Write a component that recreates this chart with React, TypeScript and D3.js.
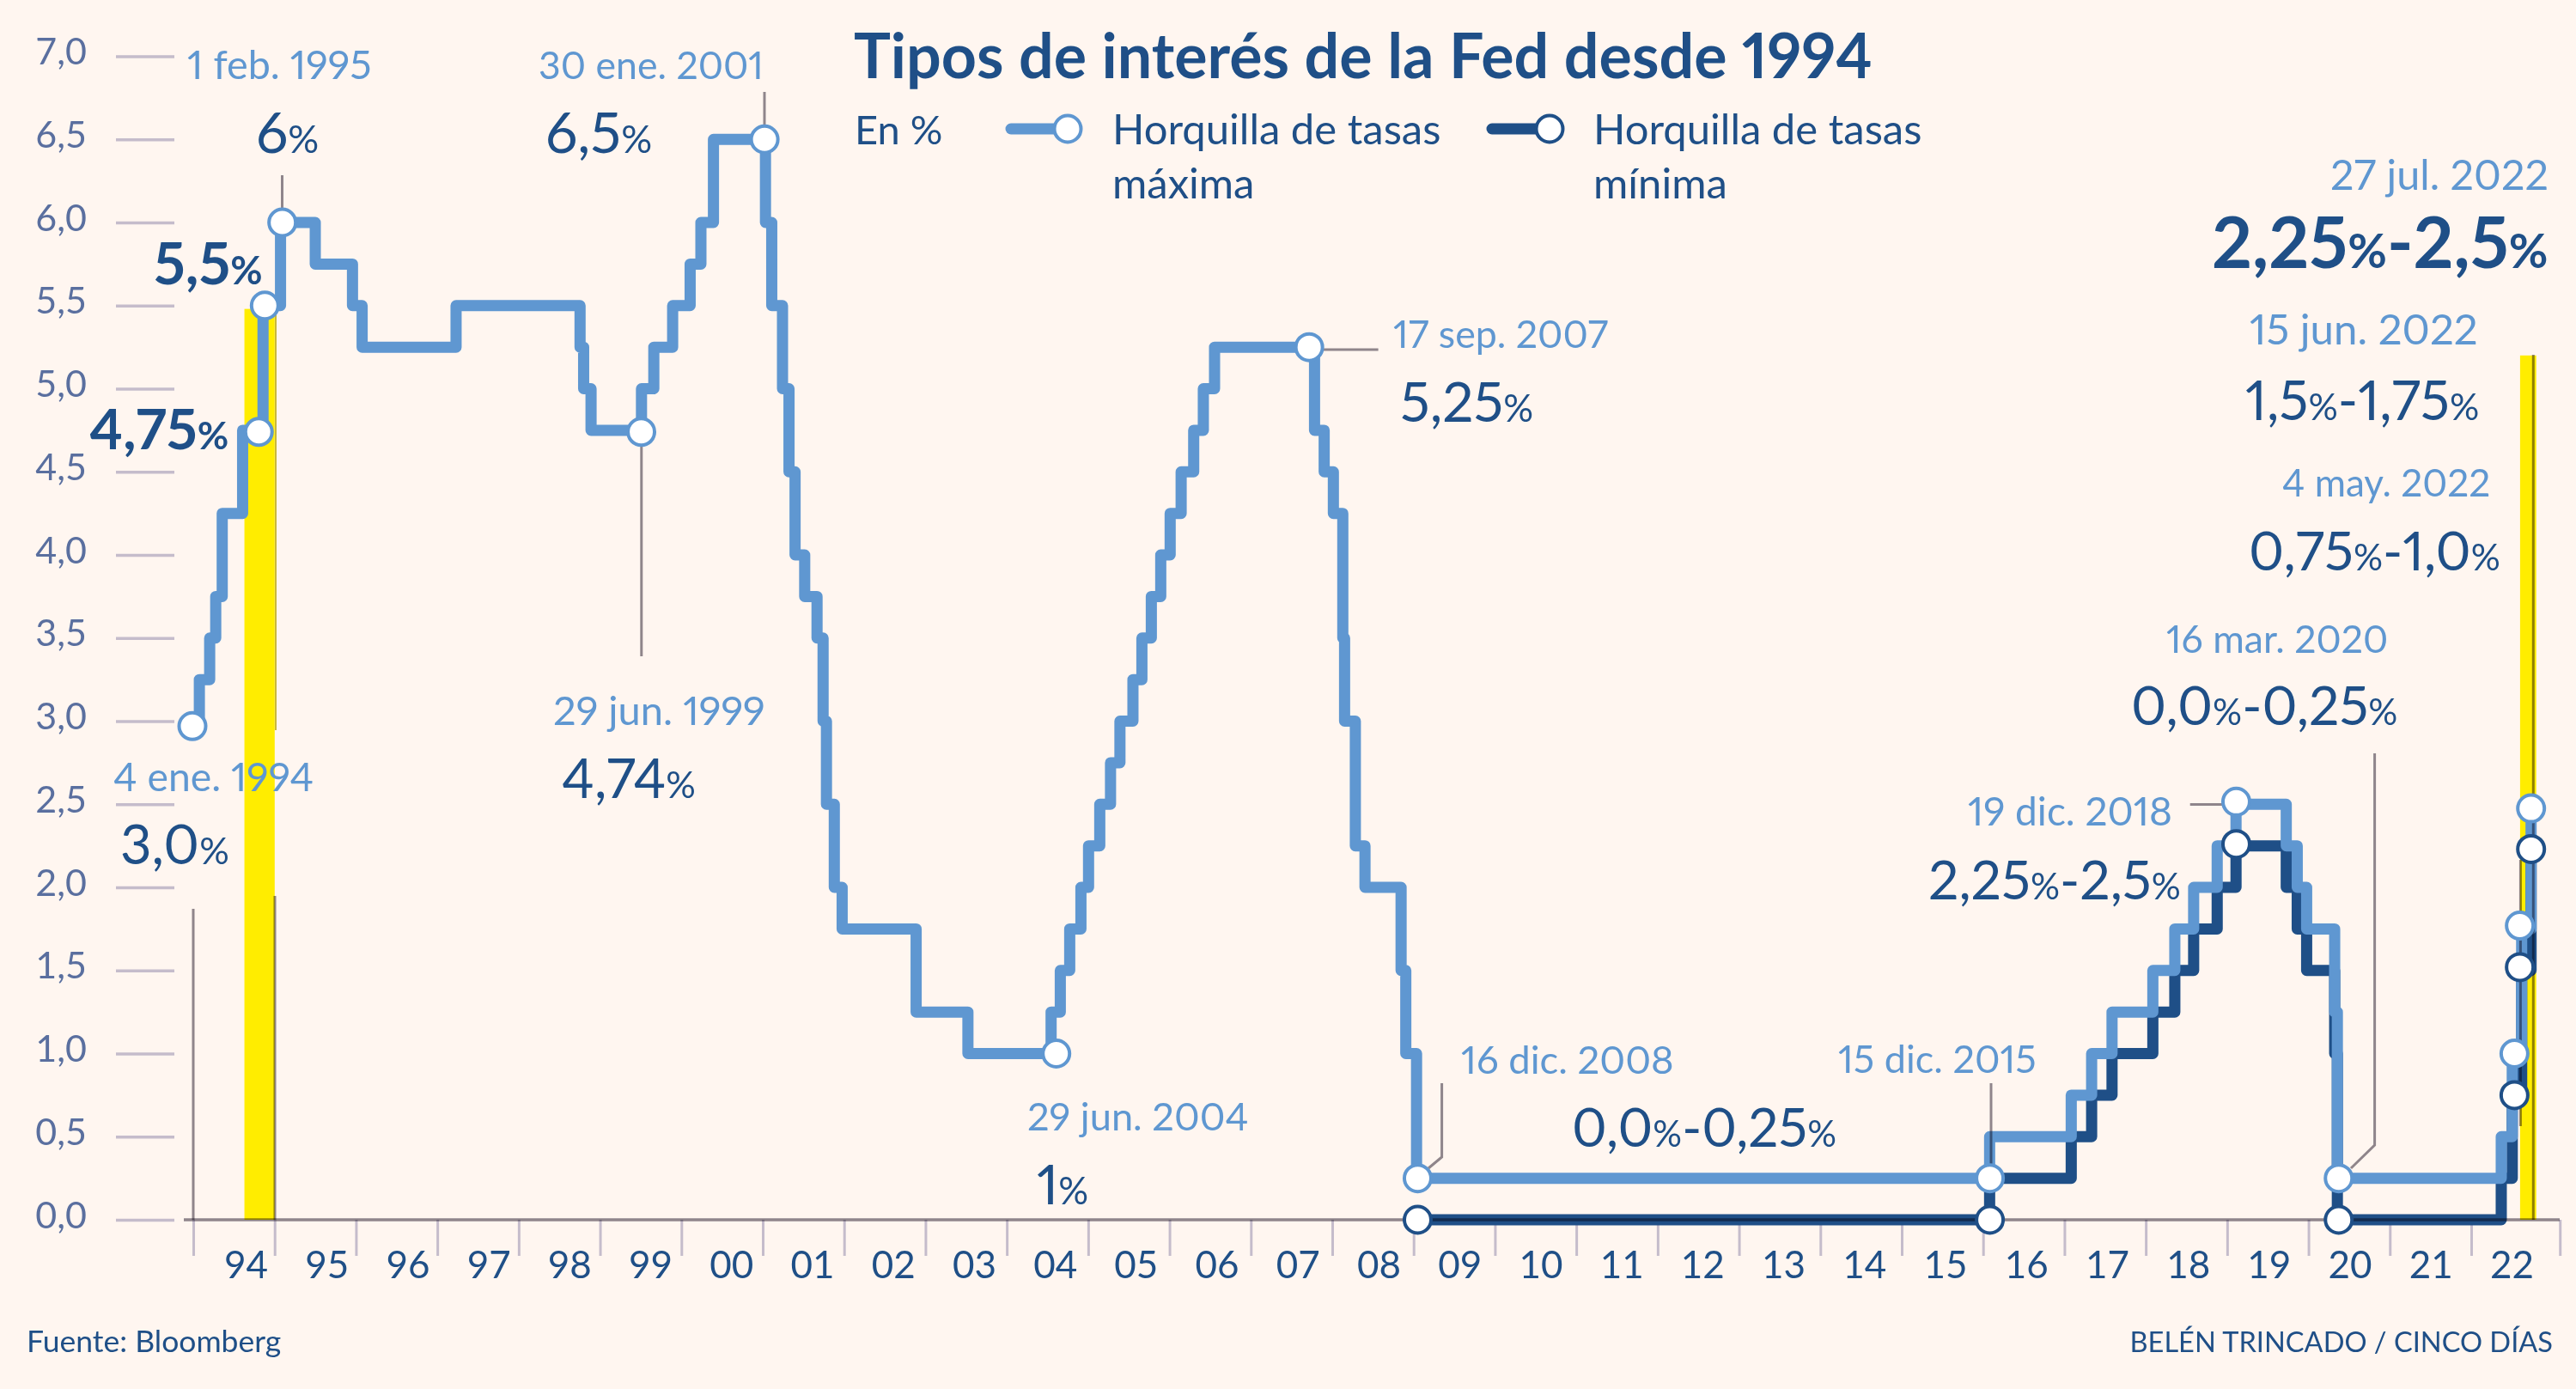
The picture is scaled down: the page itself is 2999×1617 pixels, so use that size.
import { useEffect, useRef } from "react";
import * as d3 from "d3";

const WIDTH = 2999;
const HEIGHT = 1617;

const BG = "#fff6f0";
const LIGHT = "#5f97d1";
const DARK = "#1f4f87";
const GREY = "#8f8a94";
const TICK = "#c5bccb";
const YELLOW = "#ffed00";
const AXIS_TEXT = "#5a6f9f";

// fed funds upper bound, single target until the end of 2008
const maxDates = [
  "1994-01-04", "1994-02-04", "1994-03-22", "1994-04-18", "1994-05-17", "1994-08-16", "1994-11-15",
  "1995-02-01", "1995-07-06", "1995-12-19", "1996-01-31", "1997-03-25", "1998-09-29", "1998-10-15",
  "1998-11-17", "1999-06-30", "1999-08-24", "1999-11-16", "2000-02-02", "2000-03-21", "2000-05-16",
  "2001-01-03", "2001-01-31", "2001-03-20", "2001-04-18", "2001-05-15", "2001-06-27", "2001-08-21",
  "2001-09-17", "2001-10-02", "2001-11-06", "2001-12-11", "2002-11-06", "2003-06-25", "2004-06-30",
  "2004-08-10", "2004-09-21", "2004-11-10", "2004-12-14", "2005-02-02", "2005-03-22", "2005-05-03",
  "2005-06-30", "2005-08-09", "2005-09-20", "2005-11-01", "2005-12-13", "2006-01-31", "2006-03-28",
  "2006-05-10", "2006-06-29", "2007-09-18", "2007-10-31", "2007-12-11", "2008-01-22", "2008-01-30",
  "2008-03-18", "2008-04-30", "2008-10-08", "2008-10-29", "2008-12-16", "2015-12-16", "2016-12-14",
  "2017-03-15", "2017-06-14", "2017-12-13", "2018-03-21", "2018-06-13", "2018-09-26", "2018-12-19",
  "2019-07-31", "2019-09-18", "2019-10-30", "2020-03-03", "2020-03-15", "2022-03-16", "2022-05-04",
  "2022-06-15", "2022-07-27",
];
const maxValues = [
  3, 3.25, 3.5, 3.75, 4.25, 4.75, 5.5,
  6, 5.75, 5.5, 5.25, 5.5, 5.25, 5,
  4.75, 5, 5.25, 5.5, 5.75, 6, 6.5,
  6, 5.5, 5, 4.5, 4, 3.75, 3.5,
  3, 2.5, 2, 1.75, 1.25, 1, 1.25,
  1.5, 1.75, 2, 2.25, 2.5, 2.75, 3,
  3.25, 3.5, 3.75, 4, 4.25, 4.5, 4.75,
  5, 5.25, 4.75, 4.5, 4.25, 3.5, 3,
  2.25, 2, 1.5, 1, 0.25, 0.5, 0.75,
  1, 1.25, 1.5, 1.75, 2, 2.25, 2.5,
  2.25, 2, 1.75, 1.25, 0.25, 0.5, 1,
  1.75, 2.5,
];

// lower bound of the range, it only exists from dec 2008
const minDates = [
  "2008-12-16", "2015-12-16", "2016-12-14", "2017-03-15", "2017-06-14", "2017-12-13", "2018-03-21",
  "2018-06-13", "2018-09-26", "2018-12-19", "2019-07-31", "2019-09-18", "2019-10-30", "2020-03-03",
  "2020-03-15", "2022-03-16", "2022-05-04", "2022-06-15", "2022-07-27",
];
const minValues = [0, 0.25, 0.5, 0.75, 1, 1.25, 1.5, 1.75, 2, 2.25, 2, 1.75, 1.5, 1, 0, 0.25, 0.75, 1.5, 2.25];

// markers sit a little off the line in the original
const maxMarkerDates = [
  "1994-01-04", "1994-10-27", "1994-11-23", "1995-02-09", "1999-06-29", "2000-12-30", "2004-07-23",
  "2007-08-25", "2008-12-21", "2015-12-17", "2018-12-20", "2020-03-21", "2022-05-14", "2022-06-07", "2022-07-27",
];
const maxMarkerValues = [2.97, 4.74, 5.5, 6, 4.74, 6.5, 1, 5.25, 0.25, 0.25, 2.515, 0.25, 1, 1.77, 2.475];
const minMarkerDates = ["2008-12-21", "2015-12-17", "2018-12-20", "2020-03-21", "2022-05-14", "2022-06-07", "2022-07-27"];
const minMarkerValues = [0, 0, 2.26, 0, 0.75, 1.52, 2.23];

// yellow periods
const bandStarts = ["1994-08-24", "2022-06-08"];
const bandEnds = ["1995-01-06", "2022-08-19"];
const bandTops = [5.48, 5.2];

const yTicks = [0, 0.5, 1, 1.5, 2, 2.5, 3, 3.5, 4, 4.5, 5, 5.5, 6, 6.5, 7];
const yearTicks = [...d3.range(1994, 2023), 2023.09];
const yearLabels = [
  "94", "95", "96", "97", "98", "99", "00", "01", "02", "03", "04", "05", "06", "07", "08",
  "09", "10", "11", "12", "13", "14", "15", "16", "17", "18", "19", "20", "21", "22",
];

const dateLabels = [
  "1 feb. 1995", "30 ene. 2001", "29 jun. 1999", "4 ene. 1994", "17 sep. 2007", "29 jun. 2004", "16 dic. 2008",
  "15 dic. 2015", "19 dic. 2018", "16 mar. 2020", "4 may. 2022", "15 jun. 2022", "27 jul. 2022",
];
const dateLabelPos = [
  [218, 92], [627, 92], [644, 844], [132, 921], [1622, 405], [1196, 1316], [1701, 1250],
  [2140, 1249], [2291, 961], [2522, 760], [2657, 578], [2619, 401], [2713, 221],
];
const dateLabelSizes = [46.7, 44.6, 47, 46.3, 44.7, 45.2, 45.4, 45, 46, 44.5, 44.1, 49.2, 48.5];

const valueLabels = [
  "6%", "6,5%", "5,5%", "4,75%", "4,74%", "3,0%", "5,25%", "1%", "0,0%-0,25%",
  "2,25%-2,5%", "0,0%-0,25%", "0,75%-1,0%", "1,5%-1,75%", "2,25%-2,5%",
];
const valueLabelPos = [
  [298, 178], [635, 178], [179, 331], [104, 523], [654, 929], [140, 1006], [1630, 491], [1207, 1402], [1830, 1335],
  [2245, 1047], [2481, 844], [2618, 664], [2614, 489], [2575, 312],
];
// size and weight per value label, the highlighted ones are bold
const valueLabelSizes = [66, 66, 67, 65.5, 63.5, 63.5, 64, 64, 62, 62.5, 62.5, 62.6, 63, 82];
const valueLabelBold = [false, false, true, true, false, false, false, false, false, false, false, false, false, true];

// annotation leaders
const leaders: [number, number][][] = [
  [[328.5, 204], [328.5, 245]],
  [[890, 107], [890, 150]],
  [[746.8, 515], [746.8, 764]],
  [[1540, 407], [1604.6, 407]],
  [[1678.6, 1261], [1678.6, 1347], [1663, 1360]],
  [[2318, 1261], [2318, 1355]],
  [[2549.7, 936.6], [2590, 936.6]],
  [[2764.6, 877], [2764.6, 1333], [2737, 1360]],
  [[2934.4, 1001], [2934.4, 1311]],
  [[225, 1058], [225, 1420]],
  [[320, 1043], [320, 1420]],
  [[2949.3, 413], [2949.3, 1420]],
];

const parse = d3.utcParse("%Y-%m-%d");
const toDate = (s: string) => parse(s) as Date;

const x = d3
  .scaleUtc()
  .domain([toDate("1994-01-04"), toDate("2022-07-27")])
  .range([224, 2946.7]);
const y = d3.scaleLinear().domain([0, 7]).range([1420, 65.5]);
// the year ticks do not run quite at the same pace as the data
const xTick = d3.scaleLinear().domain([1994, 2022]).range([225, 2877]);
const xLabel = d3.scalePoint<string>().domain(yearLabels).range([286, 2924]);

const stepLine = d3
  .line<[Date, number]>()
  .x((d) => x(d[0]))
  .y((d) => y(d[1]))
  .curve(d3.curveStepAfter);

function zipSeries(dates: string[], values: number[]): [Date, number][] {
  return dates.map((d, i) => [toDate(d), values[i]]);
}

export default function App() {
  const svgRef = useRef<SVGSVGElement>(null);

  useEffect(() => {
    if (!svgRef.current) return;
    const svg = d3.select(svgRef.current);
    svg.selectAll("*").remove();

    svg.append("rect").attr("width", WIDTH).attr("height", HEIGHT).attr("fill", BG);

    /* bands */
    svg
      .selectAll("rect.band")
      .data(bandStarts)
      .join("rect")
      .attr("class", "band")
      .attr("x", (d) => x(toDate(d)))
      .attr("y", (_, i) => y(bandTops[i]))
      .attr("width", (d, i) => x(toDate(bandEnds[i])) - x(toDate(d)))
      .attr("height", (_, i) => y(0) - y(bandTops[i]))
      .attr("fill", YELLOW);

    svg
      .append("line")
      .attr("x1", 321)
      .attr("x2", 321)
      .attr("y1", y(bandTops[0]))
      .attr("y2", 850)
      .attr("stroke", "#c9b838")
      .attr("stroke-width", 2);

    /* y axis */
    const yAxis = svg
      .append("g")
      .attr("transform", "translate(203,0)")
      .call(
        d3
          .axisLeft(y)
          .tickValues(yTicks)
          .tickSize(68)
          .tickPadding(34)
          .tickFormat((d) => d3.format(".1f")(Number(d)).replace(".", ","))
      );
    yAxis.select(".domain").remove();
    yAxis.selectAll("line").attr("stroke", TICK).attr("stroke-width", 3.5);
    yAxis
      .selectAll("text")
      .attr("fill", AXIS_TEXT)
      .attr("font-family", "Lato")
      .attr("font-size", 43)
      .attr("dy", 9);

    /* x axis */
    const tickAxis = svg
      .append("g")
      .attr("transform", "translate(0,1420)")
      .call(
        d3
          .axisBottom(xTick)
          .tickValues(yearTicks)
          .tickSize(42)
          .tickFormat(() => "")
      );
    tickAxis.select(".domain").remove();
    tickAxis.selectAll("line").attr("stroke", TICK).attr("stroke-width", 3);

    const labelAxis = svg
      .append("g")
      .attr("transform", "translate(0,1420)")
      .call(d3.axisBottom(xLabel).tickSize(0));
    labelAxis.select(".domain").remove();
    labelAxis
      .selectAll("text")
      .attr("fill", DARK)
      .attr("font-family", "Lato")
      .attr("font-size", 44)
      .attr("y", 68)
      .attr("dy", 0);

    /* rate lines */
    svg
      .append("path")
      .attr("d", stepLine(zipSeries(minDates, minValues)))
      .attr("fill", "none")
      .attr("stroke", DARK)
      .attr("stroke-width", 13)
      .attr("stroke-linejoin", "round");
    svg
      .append("path")
      .attr("d", stepLine(zipSeries(maxDates, maxValues)))
      .attr("fill", "none")
      .attr("stroke", LIGHT)
      .attr("stroke-width", 13)
      .attr("stroke-linejoin", "round");

    /* baseline and leaders go on top of the lines with multiply */
    svg
      .append("line")
      .attr("x1", 214)
      .attr("x2", 2980)
      .attr("y1", y(0))
      .attr("y2", y(0))
      .attr("stroke", GREY)
      .attr("stroke-width", 3.5)
      .style("mix-blend-mode", "multiply");

    svg
      .selectAll("path.leader")
      .data(leaders)
      .join("path")
      .attr("class", "leader")
      .attr("d", (d) => d3.line()(d))
      .attr("fill", "none")
      .attr("stroke", GREY)
      .attr("stroke-width", 3)
      .style("mix-blend-mode", "multiply");

    /* markers */
    const drawMarkers = (dates: string[], values: number[], color: string) => {
      svg
        .append("g")
        .selectAll("circle")
        .data(dates)
        .join("circle")
        .attr("cx", (d) => x(toDate(d)))
        .attr("cy", (_, i) => y(values[i]))
        .attr("r", 15.5)
        .attr("fill", "#fff")
        .attr("stroke", color)
        .attr("stroke-width", 4);
    };
    drawMarkers(maxMarkerDates, maxMarkerValues, LIGHT);
    drawMarkers(minMarkerDates, minMarkerValues, DARK);

    /* title and legend */
    const addText = (txt: string, tx: number, ty: number, size: number, color: string, weight = 400) =>
      svg
        .append("text")
        .attr("x", tx)
        .attr("y", ty)
        .attr("font-size", size)
        .attr("font-weight", weight)
        .attr("fill", color)
        .style("font-variant-numeric", "proportional-nums")
        .text(txt);

    addText("Tipos de interés de la Fed desde 1994", 994, 91, 71.8, DARK, 700);
    addText("En %", 995, 168, 47, DARK);

    const legendItems = [
      { color: LIGHT, lineX: 1171, markerX: 1243, textX: 1295, lines: ["Horquilla de tasas", "máxima"] },
      { color: DARK, lineX: 1731, markerX: 1804, textX: 1855, lines: ["Horquilla de tasas", "mínima"] },
    ];
    legendItems.forEach((item) => {
      svg
        .append("line")
        .attr("x1", item.lineX + 6)
        .attr("x2", item.markerX)
        .attr("y1", 150)
        .attr("y2", 150)
        .attr("stroke", item.color)
        .attr("stroke-width", 13)
        .attr("stroke-linecap", "round");
      svg
        .append("circle")
        .attr("cx", item.markerX)
        .attr("cy", 150)
        .attr("r", 15.5)
        .attr("fill", "#fff")
        .attr("stroke", item.color)
        .attr("stroke-width", 4);
      addText(item.lines[0], item.textX, 168, 49, DARK);
      addText(item.lines[1], item.textX, 231, 49, DARK);
    });

    /* annotations */
    dateLabels.forEach((label, i) => {
      addText(label, dateLabelPos[i][0], dateLabelPos[i][1], dateLabelSizes[i], LIGHT);
    });

    valueLabels.forEach((label, i) => {
      const size = valueLabelSizes[i];
      const t = svg
        .append("text")
        .attr("x", valueLabelPos[i][0])
        .attr("y", valueLabelPos[i][1])
        .attr("fill", DARK)
        .attr("font-weight", valueLabelBold[i] ? 700 : 400)
        .attr("font-size", size)
        .style("font-variant-numeric", "proportional-nums");
      // the % sign is set smaller than the figures
      label.split(/(%)/).forEach((part) => {
        if (!part) return;
        const ts = t.append("tspan").text(part);
        if (part === "%") ts.attr("font-size", size * 0.68);
      });
    });

    addText("Fuente: Bloomberg", 31, 1574, 35.5, DARK);
    addText("BELÉN TRINCADO / CINCO DÍAS", 2972, 1574, 32.6, DARK).attr("text-anchor", "end");
  }, []);

  return (
    <svg
      ref={svgRef}
      width={WIDTH}
      height={HEIGHT}
      fontFamily="Lato"
      style={{ position: "absolute", left: 0, top: 0, display: "block" }}
    />
  );
}
